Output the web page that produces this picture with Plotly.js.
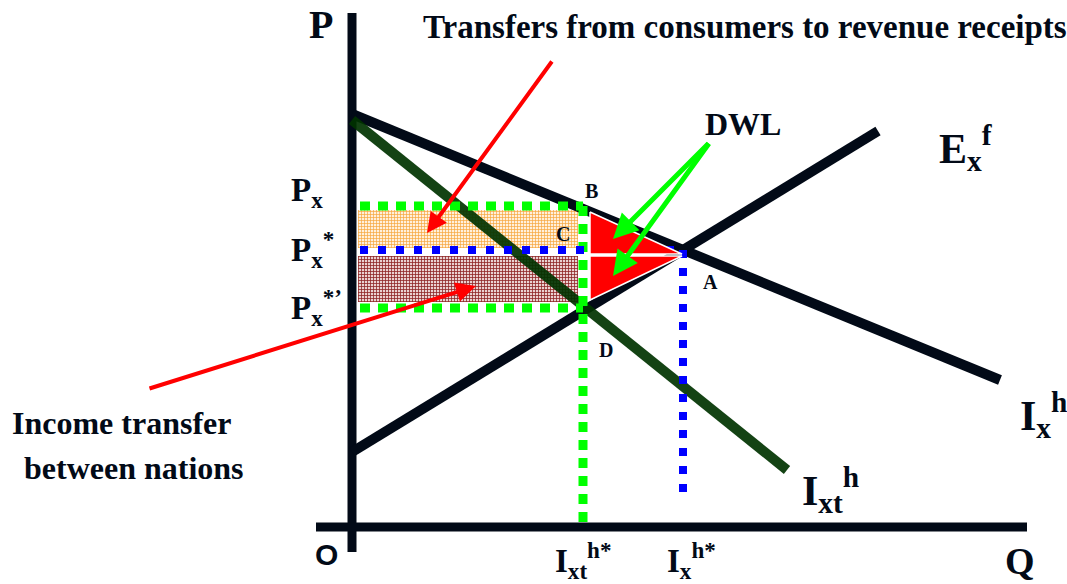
<!DOCTYPE html>
<html>
<head>
<meta charset="utf-8">
<script src="https://cdn.plot.ly/plotly-3.0.1.min.js"></script>
<style>
html,body{margin:0;padding:0;background:#fff;}
#chart{width:1067px;height:584px;}
</style>
</head>
<body>
<div id="chart"></div>
<script>
// ---- Data (Q = quantity, P = price, origin at O) ----
const axisPQ = [0, 0];          const axisPP = [-25, 514];
const axisQQ = [-36, 675];      const axisQP = [0, 0];
const demandQ = [0, 648];       const demandP = [413, 147];   // I_x^h
const supplyQ = [0, 526];       const supplyP = [75, 396];    // E_x^f
const tariffDemQ = [0, 435];    const tariffDemP = [407, 57]; // I_xt^h
const priceLevels = {Px: 321, PxStar: 277, PxStarPrime: 219};
const qIxt = 231;   // I_xt^h*
const qIx = 331;    // I_x^h*
const rectStartQ = 8;
const revenueQ = [6, 226, 226, 6, 6];  const revenueP = [279, 279, 317, 317, 279];
const incomeQ  = [6, 226, 226, 6, 6];  const incomeP  = [225, 225, 271, 271, 225];
const dwlUpperQ = [238, 330, 238, 238]; const dwlUpperP = [315, 273, 273, 315];
const dwlLowerQ = [238, 330, 238, 238]; const dwlLowerP = [271, 271, 227, 271];
const blueVertP = [priceLevels.PxStar, 28];

const ink = '#020a17';
const serif = 'Liberation Serif, Times New Roman, serif';

function line(x, y, color, width, dash, opacity) {
  return {x: x, y: y, type: 'scatter', mode: 'lines', hoverinfo: 'skip',
          opacity: opacity || 1,
          line: {color: color, width: width, dash: dash || 'solid'}};
}
function poly(x, y, fill, lineColor, lw, pattern) {
  const t = {x: x, y: y, type: 'scatter', mode: 'lines', fill: 'toself',
             fillcolor: fill, hoverinfo: 'skip',
             line: {color: lineColor, width: lw}};
  if (pattern) t.fillpattern = pattern;
  return t;
}

const traces = [
  poly(revenueQ, revenueP, '#fcd29a', 'rgba(0,0,0,0)', 0,
       {shape: '+', size: 3, solidity: 0.4, fgcolor: '#f6a53c', bgcolor: '#fff0dc'}),
  poly(incomeQ, incomeP, '#b87474', 'rgba(0,0,0,0)', 0,
       {shape: '+', size: 3, solidity: 0.45, fgcolor: '#8e2424', bgcolor: '#ead2d2'}),
  line(axisPQ, axisPP, ink, 9),
  line(axisQQ, axisQP, ink, 9),
  line(demandQ, demandP, ink, 10),
  line(supplyQ, supplyP, ink, 10),
  line(tariffDemQ, tariffDemP, '#003300', 10, 'solid', 0.92),
  line([rectStartQ, qIxt], [priceLevels.Px, priceLevels.Px], '#00ff00', 9, '10px,8px'),
  line([rectStartQ, qIxt], [priceLevels.PxStarPrime, priceLevels.PxStarPrime], '#00ff00', 9, '10px,8px'),
  line([qIxt, qIxt], [priceLevels.Px, 0], '#00ff00', 9, '10px,8px'),
  line([rectStartQ, qIx], [priceLevels.PxStar, priceLevels.PxStar], '#0000ff', 8, '8px,10px'),
  line([qIx, qIx], blueVertP, '#0000ff', 8, '8px,10px'),
  poly(dwlUpperQ, dwlUpperP, '#ff0000', '#ffffff', 1.5),
  poly(dwlLowerQ, dwlLowerP, '#ff0000', '#ffffff', 1.5)
];

function label(x, y, text, size, opts) {
  return Object.assign({x: x, y: y, xref: 'x', yref: 'y', text: text, showarrow: false,
    xanchor: 'center', yanchor: 'middle',
    font: {family: serif, size: size, color: ink}}, opts || {});
}
function arrow(fromQ, fromP, toQ, toP, color, width) {
  return {x: toQ, y: toP, ax: fromQ, ay: fromP, xref: 'x', yref: 'y', axref: 'x', ayref: 'y',
    text: '', showarrow: true, arrowhead: 2, arrowsize: 1, arrowwidth: width,
    arrowcolor: color, standoff: 0, startstandoff: 0};
}

const annotations = [
  label(-31, 503, '<b>P</b>', 40),
  label(668, -34, '<b>Q</b>', 38),
  label(-26, -27, '<b>O</b>', 30, {font: {family: 'Liberation Sans, Arial, sans-serif', size: 30, color: ink}}),
  label(393, 500, '<b>Transfers from consumers to revenue receipts</b>', 33),
  label(391, 403, '<b>DWL</b>', 32),
  label(585, 379, '<b>E<sub>x</sub><sup>f</sup></b>', 42, {xanchor: 'left'}),
  label(666, 112, '<b>I<sub>x</sub><sup>h</sup></b>', 42, {xanchor: 'left'}),
  label(448, 37, '<b>I<sub>xt</sub><sup>h</sup></b>', 42, {xanchor: 'left'}),
  label(-63, 335, '<b>P<sub>x</sub></b>', 33, {xanchor: 'left'}),
  label(-63, priceLevels.PxStar + 1, '<b>P<sub>x</sub><sup>*</sup></b>', 33, {xanchor: 'left'}),
  label(-63, priceLevels.PxStarPrime + 1, '<b>P<sub>x</sub><sup>*’</sup></b>', 33, {xanchor: 'left'}),
  label(239, 336, '<b>B</b>', 20),
  label(211, 293, '<b>C</b>', 20),
  label(358, 245, '<b>A</b>', 20),
  label(254, 177, '<b>D</b>', 20),
  label(-342, 104, '<b>Income transfer</b>', 32, {xanchor: 'left'}),
  label(-330, 59, '<b>between nations</b>', 32, {xanchor: 'left'}),
  label(qIxt, -33, '<b>I<sub>xt</sub><sup>h*</sup></b>', 33),
  label(qIx + 8, -33, '<b>I<sub>x</sub><sup>h*</sup></b>', 33),
  arrow(201, 467, 75, 294, '#ff0000', 4),
  arrow(-204, 138, 124, 241, '#ff0000', 4),
  arrow(358, 385, 261, 288, '#00ff00', 5),
  arrow(358, 385, 261, 251, '#00ff00', 5)
];

const layout = {
  width: 1067, height: 584,
  margin: {l: 0, r: 0, t: 0, b: 0, pad: 0},
  paper_bgcolor: '#ffffff', plot_bgcolor: '#ffffff',
  showlegend: false,
  xaxis: {range: [-352, 715], visible: false, fixedrange: true},
  yaxis: {range: [-57, 527], visible: false, fixedrange: true},
  annotations: annotations
};

Plotly.newPlot('chart', traces, layout, {staticPlot: true, displayModeBar: false});
</script>
</body>
</html>
